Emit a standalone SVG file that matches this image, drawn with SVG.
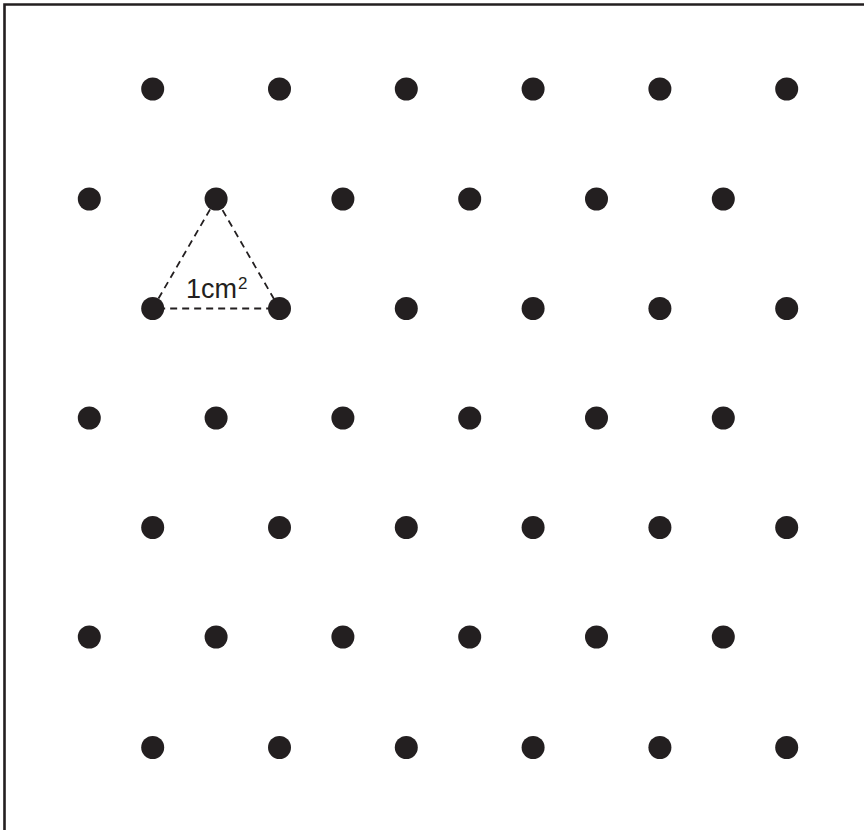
<svg xmlns="http://www.w3.org/2000/svg" width="864" height="830" viewBox="0 0 864 830">
<style>
.d{fill:#231f20}
.dash{fill:none;stroke:#231f20;stroke-width:1.8;stroke-dasharray:7,5}
.lbl{font-family:"Liberation Sans",Arial,sans-serif;fill:#231f20}
</style>
<defs><circle id="dot" r="11.5" class="d"/></defs>
<rect width="864" height="830" fill="#fff"/>
<path d="M4.5,835 V4.5 H870" fill="none" stroke="#231f20" stroke-width="2.6"/>
<g id="connectors">
<path class="dash" d="M216.1,199 L152.7,308.5 L279.5,308.5 Z"/>
</g>
<g id="dots">
<g id="row1"><use href="#dot" x="152.7" y="89"/><use href="#dot" x="279.5" y="89"/><use href="#dot" x="406.3" y="89"/><use href="#dot" x="533.1" y="89"/><use href="#dot" x="659.9" y="89"/><use href="#dot" x="786.7" y="89"/></g>
<g id="row2"><use href="#dot" x="89.3" y="199"/><use href="#dot" x="216.1" y="199"/><use href="#dot" x="342.9" y="199"/><use href="#dot" x="469.7" y="199"/><use href="#dot" x="596.5" y="199"/><use href="#dot" x="723.3" y="199"/></g>
<g id="row3"><use href="#dot" x="152.7" y="308.5"/><use href="#dot" x="279.5" y="308.5"/><use href="#dot" x="406.3" y="308.5"/><use href="#dot" x="533.1" y="308.5"/><use href="#dot" x="659.9" y="308.5"/><use href="#dot" x="786.7" y="308.5"/></g>
<g id="row4"><use href="#dot" x="89.3" y="418"/><use href="#dot" x="216.1" y="418"/><use href="#dot" x="342.9" y="418"/><use href="#dot" x="469.7" y="418"/><use href="#dot" x="596.5" y="418"/><use href="#dot" x="723.3" y="418"/></g>
<g id="row5"><use href="#dot" x="152.7" y="527.5"/><use href="#dot" x="279.5" y="527.5"/><use href="#dot" x="406.3" y="527.5"/><use href="#dot" x="533.1" y="527.5"/><use href="#dot" x="659.9" y="527.5"/><use href="#dot" x="786.7" y="527.5"/></g>
<g id="row6"><use href="#dot" x="89.3" y="637"/><use href="#dot" x="216.1" y="637"/><use href="#dot" x="342.9" y="637"/><use href="#dot" x="469.7" y="637"/><use href="#dot" x="596.5" y="637"/><use href="#dot" x="723.3" y="637"/></g>
<g id="row7"><use href="#dot" x="152.7" y="747.5"/><use href="#dot" x="279.5" y="747.5"/><use href="#dot" x="406.3" y="747.5"/><use href="#dot" x="533.1" y="747.5"/><use href="#dot" x="659.9" y="747.5"/><use href="#dot" x="786.7" y="747.5"/></g>
</g>
<g id="label">
<text class="lbl" x="186" y="298" font-size="27">1cm<tspan font-size="17" dy="-9" dx="1">2</tspan></text>
</g>
</svg>
